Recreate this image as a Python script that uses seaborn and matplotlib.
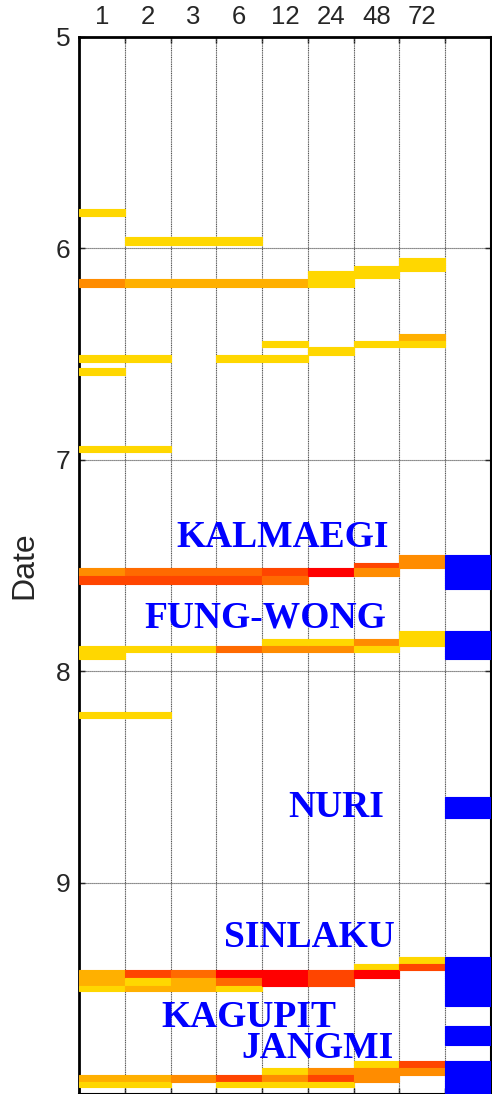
import matplotlib
matplotlib.use("Agg")
import matplotlib.pyplot as plt
import seaborn as sns
import numpy as np

# ---------------- data ----------------
lead_labels = ["1", "2", "3", "6", "12", "24", "48", "72"]
y_ticks = [5, 6, 7, 8, 9]

# colored cells: column index, start date, end date, level
bar_col = [
    0, 0, 0, 0, 0, 0, 0, 0, 0, 0, 0, 0, 0,
    1, 1, 1, 1, 1, 1, 1, 1, 1, 1, 1, 1, 1,
    2, 2, 2, 2, 2, 2, 2, 2,
    3, 3, 3, 3, 3, 3, 3, 3, 3, 3, 3,
    4, 4, 4, 4, 4, 4, 4, 4, 4, 4, 4,
    5, 5, 5, 5, 5, 5, 5, 5, 5,
    6, 6, 6, 6, 6, 6, 6, 6, 6, 6,
    7, 7, 7, 7, 7, 7, 7, 7, 7,
    8, 8, 8, 8, 8, 8,
]
bar_start = [
    5.814, 6.145, 6.505, 6.566, 6.936, 7.513, 7.551, 7.882, 8.195, 9.415, 9.487, 9.908, 9.941,
    5.947, 6.145, 6.505, 6.936, 7.513, 7.551, 7.882, 8.195, 9.415, 9.453, 9.487, 9.908, 9.941,
    5.947, 6.145, 7.513, 7.551, 7.882, 9.415, 9.453, 9.908,
    5.947, 6.145, 6.505, 7.513, 7.551, 7.882, 9.415, 9.453, 9.487, 9.908, 9.941,
    6.145, 6.439, 6.505, 7.513, 7.551, 7.849, 7.882, 9.415, 9.875, 9.908, 9.941,
    6.107, 6.467, 7.513, 7.849, 7.882, 9.415, 9.875, 9.908, 9.941,
    6.084, 6.439, 7.489, 7.513, 7.849, 7.882, 9.387, 9.415, 9.846, 9.875,
    6.046, 6.406, 6.439, 7.451, 7.811, 9.354, 9.387, 9.846, 9.875,
    7.451, 7.811, 8.597, 9.354, 9.676, 9.846,
]
bar_end = [
    5.847, 6.183, 6.538, 6.600, 6.964, 7.551, 7.589, 7.944, 8.223, 9.487, 9.515, 9.941, 9.969,
    5.984, 6.183, 6.538, 6.964, 7.551, 7.589, 7.911, 8.223, 9.453, 9.487, 9.515, 9.941, 9.969,
    5.984, 6.183, 7.551, 7.589, 7.911, 9.453, 9.515, 9.941,
    5.984, 6.183, 6.538, 7.551, 7.589, 7.911, 9.453, 9.487, 9.515, 9.941, 9.969,
    6.183, 6.467, 6.538, 7.551, 7.589, 7.882, 7.911, 9.487, 9.908, 9.941, 9.969,
    6.183, 6.505, 7.551, 7.882, 7.911, 9.487, 9.908, 9.941, 9.969,
    6.141, 6.467, 7.513, 7.551, 7.882, 7.911, 9.415, 9.453, 9.875, 9.941,
    6.107, 6.439, 6.467, 7.513, 7.882, 9.387, 9.415, 9.875, 9.908,
    7.612, 7.944, 8.696, 9.586, 9.770, 10.0,
]
bar_level = [
    1, 3, 1, 1, 1, 3, 5, 1, 1, 2, 1, 2, 1,
    1, 2, 1, 1, 4, 5, 1, 1, 5, 1, 2, 2, 1,
    1, 2, 4, 5, 1, 4, 2, 3,
    1, 2, 1, 4, 5, 4, 6, 4, 1, 5, 1,
    2, 1, 1, 5, 4, 1, 3, 6, 1, 3, 1,
    1, 1, 6, 1, 3, 5, 3, 5, 1,
    1, 1, 5, 3, 3, 1, 1, 6, 1, 3,
    1, 2, 1, 3, 1, 1, 5, 5, 3,
    7, 7, 7, 7, 7, 7,
]

storm_names = ["KALMAEGI", "FUNG-WONG", "NURI", "SINLAKU", "KAGUPIT", "JANGMI"]
storm_x = [4.456, 4.074, 5.625, 5.04, 3.70, 5.20]
storm_y = [7.414, 7.792, 8.690, 9.307, 9.681, 9.832]

# ---------------- style ----------------
level_colors = {1: "#FFD700", 2: "#FFB000", 3: "#FF8C00", 4: "#FF6A00",
                5: "#FF4500", 6: "#FF0000", 7: "#0000FF"}

sns.set_theme(style="white")
plt.rcParams["font.family"] = ["Liberation Sans", "DejaVu Sans"]

fig = plt.figure(figsize=(4.92, 10.94), dpi=100)
ax = fig.add_axes([79 / 492, 0.0, 412 / 492, 1057 / 1094])

ncol = len(lead_labels) + 1
cols = [level_colors[l] for l in bar_level]
x = np.array(bar_col) + 0.5
h = np.array(bar_end) - np.array(bar_start)
ax.bar(x, h, width=1.0, bottom=bar_start, color=cols, edgecolor=cols,
       linewidth=0.8, alpha=1.0, zorder=3)

for name, sx, sy in zip(storm_names, storm_x, storm_y):
    ax.text(sx, sy, name, ha="center", va="baseline", color="#0000FF",
            fontsize=27, fontweight="bold",
            family=["Liberation Serif", "DejaVu Serif"], zorder=5)

ax.set_xlim(0, ncol)
ax.set_ylim(10, 5)

# x: labels at column centres on top, small ticks at boundaries
ax.set_xticks(np.arange(len(lead_labels)) + 0.5)
ax.set_xticklabels(lead_labels)
ax.set_xticks(np.arange(0, ncol + 1), minor=True)
ax.xaxis.tick_top()
ax.tick_params(axis="x", which="major", length=0, pad=6, labelsize=18.5,
               top=True, bottom=False, labeltop=True, labelbottom=False)
ax.tick_params(axis="x", which="minor", direction="in", length=4, width=1,
               top=True, bottom=True, color="black")

ax.set_yticks(y_ticks)
ax.set_yticklabels([str(v) for v in y_ticks])
ax.tick_params(axis="y", which="major", direction="in", length=4, width=1,
               left=True, right=True, labelsize=19, pad=6, color="black")

ax.set_ylabel("Date", fontsize=23, labelpad=12)

ax.grid(False)
for xv in range(1, ncol):
    ax.axvline(xv, color="#555555", linestyle=(0, (1, 0.6)), linewidth=0.8, zorder=1)
for yv in y_ticks[1:]:
    ax.axhline(yv, color="#444444", linestyle=(0, (1, 0.8)), linewidth=0.8, zorder=1)

for s in ["left", "top"]:
    ax.spines[s].set_color("black")
    ax.spines[s].set_linewidth(2)
for s in ["right", "bottom"]:
    ax.spines[s].set_color("black")
    ax.spines[s].set_linewidth(1.5)

fig.savefig("out.png", dpi=100)
